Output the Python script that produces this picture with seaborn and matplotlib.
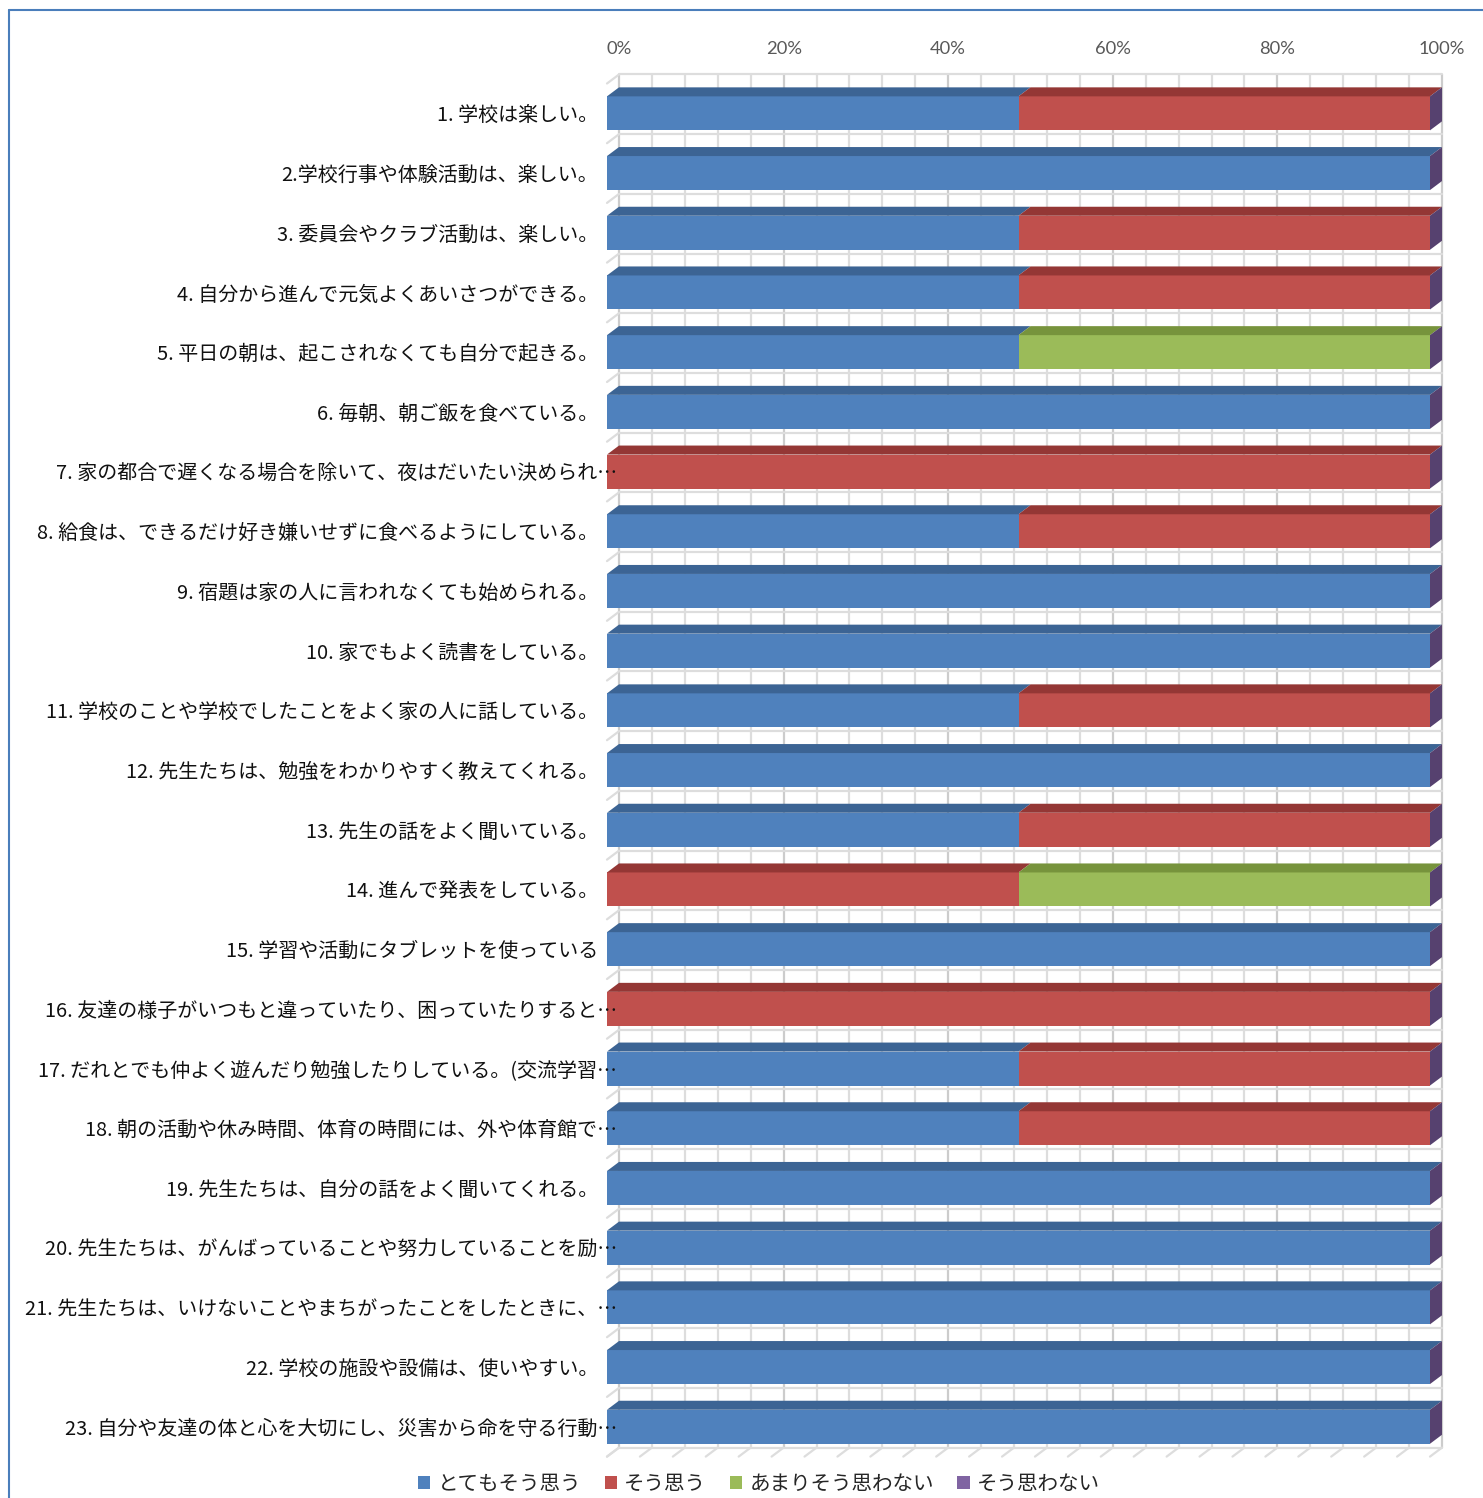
import numpy as np
import pandas as pd
import matplotlib
matplotlib.use('Agg')
import matplotlib.pyplot as plt
import seaborn as sns
from matplotlib.patches import Polygon, Patch
from matplotlib.lines import Line2D
import matplotlib.transforms as mtransforms

# ---------------- data ----------------
labels = [
    "1. 学校は楽しい。",
    "2.学校行事や体験活動は、楽しい。",
    "3. 委員会やクラブ活動は、楽しい。",
    "4. 自分から進んで元気よくあいさつができる。",
    "5. 平日の朝は、起こされなくても自分で起きる。",
    "6. 毎朝、朝ご飯を食べている。",
    "7. 家の都合で遅くなる場合を除いて、夜はだいたい決められ…",
    "8. 給食は、できるだけ好き嫌いせずに食べるようにしている。",
    "9. 宿題は家の人に言われなくても始められる。",
    "10. 家でもよく読書をしている。",
    "11. 学校のことや学校でしたことをよく家の人に話している。",
    "12. 先生たちは、勉強をわかりやすく教えてくれる。",
    "13. 先生の話をよく聞いている。",
    "14. 進んで発表をしている。",
    "15. 学習や活動にタブレットを使っている",
    "16. 友達の様子がいつもと違っていたり、困っていたりすると…",
    "17. だれとでも仲よく遊んだり勉強したりしている。(交流学習…",
    "18. 朝の活動や休み時間、体育の時間には、外や体育館で…",
    "19. 先生たちは、自分の話をよく聞いてくれる。",
    "20. 先生たちは、がんばっていることや努力していることを励…",
    "21. 先生たちは、いけないことやまちがったことをしたときに、…",
    "22. 学校の施設や設備は、使いやすい。",
    "23. 自分や友達の体と心を大切にし、災害から命を守る行動…",
]
series_names = ["とてもそう思う", "そう思う", "あまりそう思わない", "そう思わない"]
very_much = [50, 100, 50, 50, 50, 100, 0, 50, 100, 100, 50, 100, 50, 0, 100, 0, 50, 50, 100, 100, 100, 100, 100]
agree     = [50, 0, 50, 50, 0, 0, 100, 50, 0, 0, 50, 0, 50, 50, 0, 100, 50, 50, 0, 0, 0, 0, 0]
not_much  = [0, 0, 0, 0, 50, 0, 0, 0, 0, 0, 0, 0, 0, 50, 0, 0, 0, 0, 0, 0, 0, 0, 0]
not_at_all = [0] * 23
tick_values = [0, 20, 40, 60, 80, 100]
tick_labels = ["0%", "20%", "40%", "60%", "80%", "100%"]

# ---------------- style ----------------
front_colors = ["#4F81BD", "#C0504D", "#9BBB59", "#8064A2"]
top_colors = ["#3C6494", "#943735", "#77933C", "#5F4A7D"]
side_color = "#56416F"
grid_color = "#DDDDDD"
grid_major = "#CCCCCC"

W, H = 1483, 1498
DPI = 100
CJK = ["Noto Sans CJK JP", "DejaVu Sans"]

sns.set_theme(style="white")
plt.rcParams['font.family'] = CJK

fig = plt.figure(figsize=(W / DPI, H / DPI), dpi=DPI)

# layout in pixels
x0_px, x100_px = 607, 1430
dx_px, dy_px = 12, 9
row_top_px = 83.5
pitch_px = 59.7
n = len(labels)
px_per_unit = (x100_px - x0_px) / 100.0
ddx = dx_px / px_per_unit
ddy = dy_px / pitch_px
ax_w_px = (x100_px - x0_px) + dx_px
ax_h_px = pitch_px * n
ax = fig.add_axes([x0_px / W, 1 - (row_top_px + ax_h_px) / H, ax_w_px / W, ax_h_px / H])

df = pd.DataFrame({"label": labels,
                   series_names[0]: very_much,
                   series_names[1]: agree,
                   series_names[2]: not_much,
                   series_names[3]: not_at_all})
vals = df[series_names].to_numpy(dtype=float)
cum = np.cumsum(vals, axis=1)
for k, s in enumerate(series_names):
    df["cum_" + s] = cum[:, k]

bar_w = 34 / pitch_px

# front faces via seaborn (cumulative, drawn from longest to shortest)
for k in range(len(series_names) - 1, -1, -1):
    sns.barplot(data=df, x="cum_" + series_names[k], y="label", order=labels,
                color=front_colors[k], saturation=1, width=bar_w, orient="h",
                ax=ax, zorder=3, linewidth=0)

ax.set_xlim(0, 100 + ddx)
ax.set_ylim(n - 0.5, -0.5)

# back wall grid
for v in range(0, 101, 4):
    c = grid_major if v % 20 == 0 else grid_color
    ax.plot([v + ddx, v + ddx], [-0.5 - ddy, n - 0.5 - ddy], color=c, lw=1.6,
            zorder=0, clip_on=False, solid_capstyle="butt")
    ax.plot([v, v + ddx], [n - 0.5, n - 0.5 - ddy], color=grid_color, lw=1.6,
            zorder=0, clip_on=False)
for k in range(n + 1):
    yb = k - 0.5
    ax.plot([ddx, 100 + ddx], [yb - ddy, yb - ddy], color=grid_color, lw=1.6,
            zorder=0, clip_on=False)
    ax.plot([0, ddx], [yb, yb - ddy], color=grid_color, lw=1.6, zorder=0, clip_on=False)

# 3D top faces and right side face
for i in range(n):
    yt = i - bar_w / 2
    yb = i + bar_w / 2
    start = 0.0
    for k in range(len(series_names)):
        end = cum[i, k]
        if end > start:
            poly = Polygon([(start, yt), (end, yt), (end + ddx, yt - ddy), (start + ddx, yt - ddy)],
                           closed=True, facecolor=top_colors[k], edgecolor="none",
                           zorder=4, clip_on=False)
            ax.add_patch(poly)
        start = end
    tot = cum[i, -1]
    side = Polygon([(tot, yt), (tot + ddx, yt - ddy), (tot + ddx, yb - ddy), (tot, yb)],
                   closed=True, facecolor=side_color, edgecolor="none", zorder=4, clip_on=False)
    ax.add_patch(side)

# axes cosmetics
for sp in ax.spines.values():
    sp.set_visible(False)
ax.set_facecolor("none")
ax.set_xlabel("")
ax.set_ylabel("")
ax.grid(False)
ax.xaxis.set_ticks_position("top")
ax.set_xticks([v + ddx for v in tick_values])
ax.set_xticklabels(tick_labels, fontsize=13.2, color="#595959", family=["Lato", "DejaVu Sans"])
ax.tick_params(axis="x", length=0, pad=19)
ax.tick_params(axis="y", length=0, pad=6.5)
ax.set_yticks(range(n))
ax.set_yticklabels(labels, fontsize=14.4, color="#111111", family=CJK)
ax.yaxis.set_zorder(6)
for t in ax.get_yticklabels():
    if t.get_text().endswith("…"):
        t.set_transform(t.get_transform() + mtransforms.ScaledTranslation(19 / DPI, 0, fig.dpi_scale_trans))

# legend
handles = [Patch(facecolor=front_colors[k], edgecolor="none", label=series_names[k])
           for k in range(len(series_names))]
fig.legend(handles=handles, loc="center", bbox_to_anchor=(759 / W, 1 - 1484 / H), ncol=4,
           frameon=False, prop={"family": CJK, "size": 14.8}, handlelength=0.6,
           handleheight=0.6, handletextpad=0.35, columnspacing=1.15, borderaxespad=0)

# chart border (blue)
bc = "#4A7EBB"
fig.add_artist(Line2D([8.5 / W, 8.5 / W], [0, 1 - 10 / H], transform=fig.transFigure, color=bc, lw=1.5))
fig.add_artist(Line2D([8.5 / W, 1], [1 - 10 / H, 1 - 10 / H], transform=fig.transFigure, color=bc, lw=1.5))

fig.savefig("out.png", dpi=DPI)
